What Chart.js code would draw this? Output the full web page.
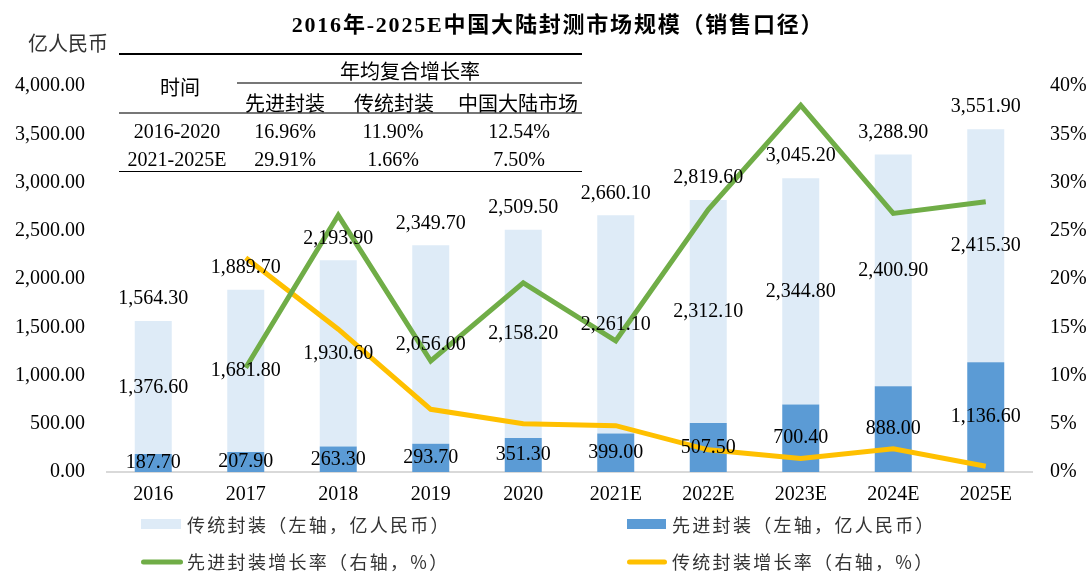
<!DOCTYPE html>
<html>
<head>
<meta charset="utf-8">
<script src="https://cdn.jsdelivr.net/npm/chart.js@4/dist/chart.umd.min.js"></script>
<style>
  body { margin: 0; background: #fff; }
  #wrap { position: relative; width: 1091px; height: 572px; overflow: hidden; }
  #c { position: absolute; left: 0; top: 0; }
  .t { position: absolute; transform: translate(-50%, -50%); white-space: nowrap; color: #000;
       font-family: "Liberation Serif", "Noto Sans CJK SC", serif; font-size: 20px; }
  .hl { position: absolute; height: 0; }
  .lg { position: absolute; white-space: nowrap; color: #333; transform: translateY(-50%);
        font-family: "Noto Sans CJK SC", sans-serif; font-size: 18px; letter-spacing: 2.3px; }
  .sw { position: absolute; transform: translateY(-50%); }
</style>
</head>
<body>
<div id="wrap">
  <canvas id="c" width="1091" height="572"></canvas>

  <div class="t" style="left:558px;top:22px;font-weight:bold;font-size:22px;letter-spacing:1.8px">2016年-2025E中国大陆封测市场规模（销售口径）</div>
  <div class="t" style="left:68px;top:42px;font-size:20px;color:#333">亿人民币</div>

  <!-- CAGR table -->
  <div class="hl" style="left:119px;width:463px;top:53px;border-top:2px solid #000"></div>
  <div class="hl" style="left:237px;width:345px;top:82px;border-top:2px solid #777"></div>
  <div class="hl" style="left:119px;width:463px;top:112px;border-top:2px solid #777"></div>
  <div class="hl" style="left:119px;width:463px;top:171px;border-top:1.5px solid #000"></div>
  <div class="t" style="left:180px;top:86px">时间</div>
  <div class="t" style="left:410px;top:70px">年均复合增长率</div>
  <div class="t" style="left:285px;top:102px">先进封装</div>
  <div class="t" style="left:394px;top:102px">传统封装</div>
  <div class="t" style="left:518px;top:102px">中国大陆市场</div>
  <div class="t" style="left:177px;top:131px">2016-2020</div>
  <div class="t" style="left:285px;top:131px">16.96%</div>
  <div class="t" style="left:393px;top:131px">11.90%</div>
  <div class="t" style="left:519px;top:131px">12.54%</div>
  <div class="t" style="left:177px;top:159px">2021-2025E</div>
  <div class="t" style="left:285px;top:159px">29.91%</div>
  <div class="t" style="left:393px;top:159px">1.66%</div>
  <div class="t" style="left:519px;top:159px">7.50%</div>

  <!-- legend -->
  <div class="sw" style="left:141px;top:524px;width:40px;height:10px;background:#DEEBF7"></div>
  <div class="lg" style="left:187px;top:524px">传统封装（左轴，亿人民币）</div>
  <div class="sw" style="left:627px;top:524px;width:39px;height:10px;background:#5B9BD5"></div>
  <div class="lg" style="left:672px;top:524px">先进封装（左轴，亿人民币）</div>
  <div class="sw" style="left:141px;top:562px;width:42px;height:5px;border-radius:3px;background:#70AD47"></div>
  <div class="lg" style="left:187px;top:561px">先进封装增长率（右轴，%）</div>
  <div class="sw" style="left:627px;top:562px;width:40px;height:5px;border-radius:3px;background:#FFC000"></div>
  <div class="lg" style="left:672px;top:561px">传统封装增长率（右轴，%）</div>
</div>

<script>
// --- DATA ---
const years = ['2016', '2017', '2018', '2019', '2020', '2021E', '2022E', '2023E', '2024E', '2025E'];
const advanced = [187.7, 207.9, 263.3, 293.7, 351.3, 399.0, 507.5, 700.4, 888.0, 1136.6];
const traditional = [1376.6, 1681.8, 1930.6, 2056.0, 2158.2, 2261.1, 2312.1, 2344.8, 2400.9, 2415.3];
const totals = [1564.3, 1889.7, 2193.9, 2349.7, 2509.5, 2660.1, 2819.6, 3045.2, 3288.9, 3551.9];
// growth rates in %
const advGrowth = [null, 10.8, 26.6, 11.5, 19.6, 13.6, 27.2, 38.0, 26.8, 28.0];
const tradGrowth = [null, 22.2, 14.8, 6.5, 5.0, 4.8, 2.3, 1.4, 2.4, 0.6];

const NUM_FONT = '20px "Liberation Serif", serif';
const fmt = v => v.toLocaleString('en-US', { minimumFractionDigits: 2, maximumFractionDigits: 2 });

// draws the value labels on the bars and the totals above them
const barLabels = {
    id: 'barLabels',
    afterDatasetsDraw(chart) {
        const ctx = chart.ctx;
        ctx.save();
        ctx.font = NUM_FONT;
        ctx.fillStyle = '#000';
        ctx.textAlign = 'center';
        ctx.textBaseline = 'middle';
        [0, 1].forEach(i => {
            const meta = chart.getDatasetMeta(i);
            meta.data.forEach((bar, j) => {
                const v = chart.data.datasets[i].data[j];
                ctx.fillText(fmt(v), bar.x, (bar.y + bar.base) / 2);
                if (i === 1) ctx.fillText(fmt(totals[j]), bar.x, bar.y - 22);
            });
        });
        ctx.restore();
    }
};

new Chart(document.getElementById('c'), {
    type: 'bar',
    data: {
        labels: years,
        datasets: [
            { label: '先进封装（左轴，亿人民币）', data: advanced, backgroundColor: '#5B9BD5',
              stack: 's', yAxisID: 'y', order: 2 },
            { label: '传统封装（左轴，亿人民币）', data: traditional, backgroundColor: '#DEEBF7',
              stack: 's', yAxisID: 'y', order: 2 },
            { type: 'line', label: '先进封装增长率（右轴，%）', data: advGrowth, yAxisID: 'y1',
              borderColor: '#70AD47', borderWidth: 5, pointRadius: 0, tension: 0, order: 1 },
            { type: 'line', label: '传统封装增长率（右轴，%）', data: tradGrowth, yAxisID: 'y1',
              borderColor: '#FFC000', borderWidth: 5, pointRadius: 0, tension: 0, order: 1 }
        ]
    },
    options: {
        responsive: false,
        animation: false,
        devicePixelRatio: 1,
        layout: { padding: { top: 86, left: 0, right: 0, bottom: 0 } },
        plugins: { legend: { display: false }, tooltip: { enabled: false } },
        datasets: { bar: { barPercentage: 0.4, categoryPercentage: 1 } },
        scales: {
            x: {
                stacked: true,
                grid: { display: false, drawTicks: false },
                border: { color: '#D9D9D9', width: 2 },
                ticks: { color: '#000', font: { family: '"Liberation Serif", serif', size: 20 }, padding: 11 },
                afterFit: s => { s.height = 100; }
            },
            y: {
                stacked: true,
                min: 0, max: 4000,
                grid: { display: false, drawTicks: false },
                border: { display: false },
                ticks: { stepSize: 500, color: '#000', padding: 22,
                         font: { family: '"Liberation Serif", serif', size: 20 }, callback: v => fmt(v) },
                afterFit: s => { s.width = 107; }
            },
            y1: {
                position: 'right',
                min: 0, max: 40,
                grid: { display: false, drawTicks: false },
                border: { display: false },
                ticks: { stepSize: 5, color: '#000', padding: 18,
                         font: { family: '"Liberation Serif", serif', size: 20 }, callback: v => v + '%' },
                afterFit: s => { s.width = 59; }
            }
        }
    },
    plugins: [barLabels]
});
</script>
</body>
</html>
